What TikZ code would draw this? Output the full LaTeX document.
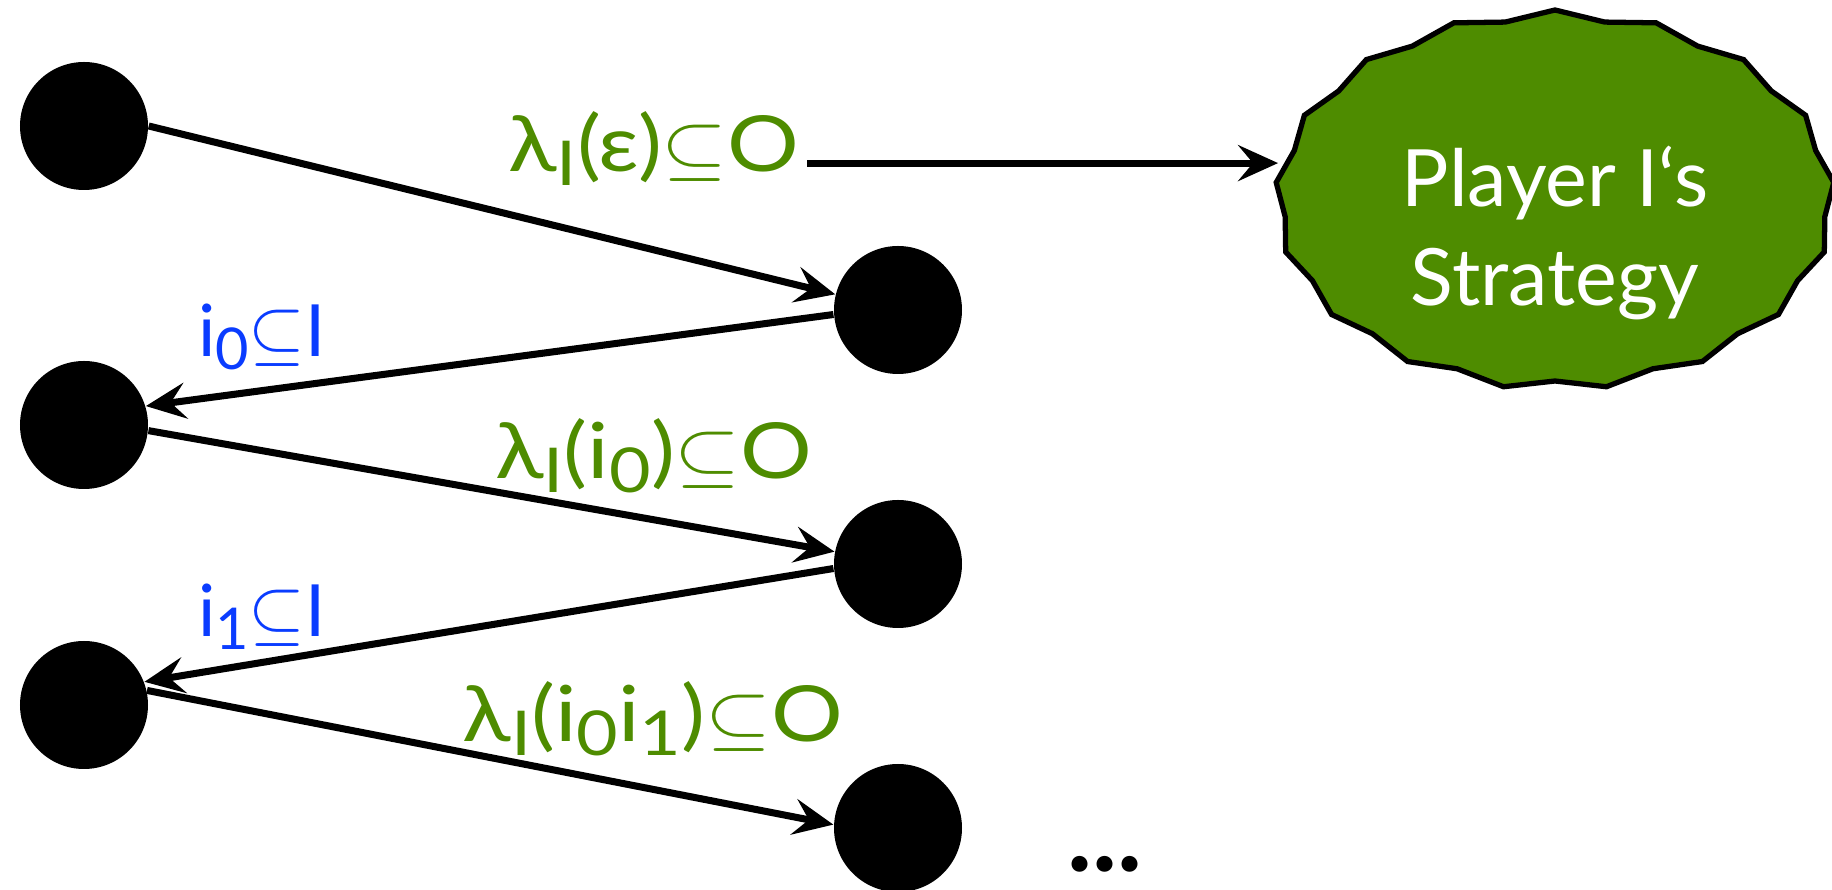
\documentclass[tikz,border=0pt]{standalone}
\usepackage{fontspec}
\setmainfont{Lato}
\usetikzlibrary{arrows.meta,shapes.symbols}
\definecolor{cgreen}{HTML}{4E8C00}
\definecolor{cblue}{HTML}{0A3CFF}
\newcommand{\lo}[1]{\raisebox{-0.35ex}{\scalebox{0.8}{#1}}}
\newcommand{\sq}{$\subseteq$}
\newcommand{\wide}[1]{\scalebox{1.16}[1]{#1}}

\begin{document}
\begin{tikzpicture}[
 dot/.style={circle, fill=black, minimum size=1.28cm, inner sep=0pt},
 glab/.style={text=cgreen, font=\fontsize{22}{24}\selectfont, inner sep=2pt, anchor=base},
 blab/.style={text=cblue, font=\fontsize{20.5}{22}\selectfont, inner sep=2pt, anchor=base},
 burst/.style={starburst, starburst points=17, starburst point height=0.09cm,
 random starburst=0, draw=black, line width=1.5pt, fill=cgreen,
 minimum width=5.6cm, minimum height=3.8cm},
 btext/.style={text=white, align=center, font=\fontsize{22.5}{28.45}\selectfont},
 a/.style={-{Stealth[length=4mm,width=3.6mm,inset=1.5mm]}, line width=2pt},
]
 \useasboundingbox (0,0) rectangle (18.32,-8.9);

 % the play, left and right
 \node[dot] (l1) at (0.84,-1.26) {};
 \node[dot] (l2) at (0.84,-4.25) {};
 \node[dot] (l3) at (0.84,-7.05) {};
 \node[dot] (r1) at (8.98,-3.10) {};
 \node[dot] (r2) at (8.98,-5.64) {};
 \node[dot] (r3) at (8.98,-8.28) {};

 \node[burst] (strat) at (15.55,-2.0) {};
 \node[btext] (stxt) at ([yshift=-0.33cm]strat.center) {Player I‘s\\Strategy};

 \node[glab] (lab1) at (6.54,-1.72) {\wide{λ\lo{I}(ε)\sq O}};
 \node[glab] (lab2) at (6.54,-4.79) {\wide{λ\lo{I}(i\lo{0})\sq O}};
 \node[glab] (lab3) at (6.53,-7.42) {\wide{λ\lo{I}(i\lo{0}i\lo{1})\sq O}};
 \node[blab] (in0) at (2.62,-3.57) {i\lo{0}\sq I};
 \node[blab] (in1) at (2.62,-6.37) {i\lo{1}\sq I};
 \node[font=\fontsize{30}{30}\selectfont\bfseries] (more) at (11.05,-8.64) {...};

 \draw[a] (l1.0) -- (r1.166);
 \draw[a] (r1.184) -- (l2.17);
 \draw[a] (l2.-5) -- (r2.169);
 \draw[a] (r2.184) -- (l3.21);
 \draw[a] (l3.13) -- (r3.177);
 \draw[a] (lab1.mid east) -- (lab1.mid east -| strat.west);
\end{tikzpicture}
\end{document}
